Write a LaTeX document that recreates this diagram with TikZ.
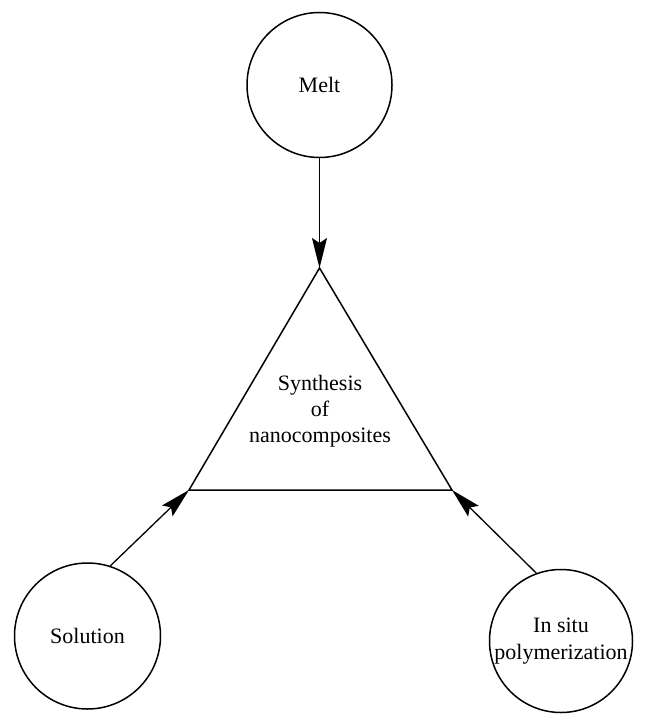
\documentclass[tikz,border=0pt]{standalone}
\usepackage{fontspec}
\setmainfont{Liberation Serif}
\usetikzlibrary{arrows.meta}
\begin{document}
\begin{tikzpicture}[x=1pt,y=-1pt,
  line width=1.5pt,
  txt/.style={font=\fontsize{22}{27}\selectfont, align=center},
  method/.style={circle, draw, minimum size=145pt, inner sep=0pt, txt},
  feed/.style={-{Stealth[length=30pt,width=15pt,inset=5pt]}, line width=1.3pt}]
\useasboundingbox (0,0) rectangle (650,727);
\coordinate (apex) at (319.5,268);
\coordinate (left) at (189,490);
\coordinate (right) at (452,490);
\draw[line width=1.5pt] (apex) -- (right) -- (left) -- cycle;
\node[txt, font=\fontsize{22}{26}\selectfont] (syn) at (320,411) {Synthesis\\of\\nanocomposites};
\node[method] (melt) at (319.5,85) {Melt};
\node[method, minimum size=146pt] (sol) at (87.5,636) {Solution};
\node[method, minimum size=143pt] (ins) at (561,641) {In situ\\polymerization};
\draw[feed] (melt.south) -- (apex);
\draw[feed] (sol.72) -- (left);
\draw[feed] (ins.110) -- (right);
\end{tikzpicture}
\end{document}
